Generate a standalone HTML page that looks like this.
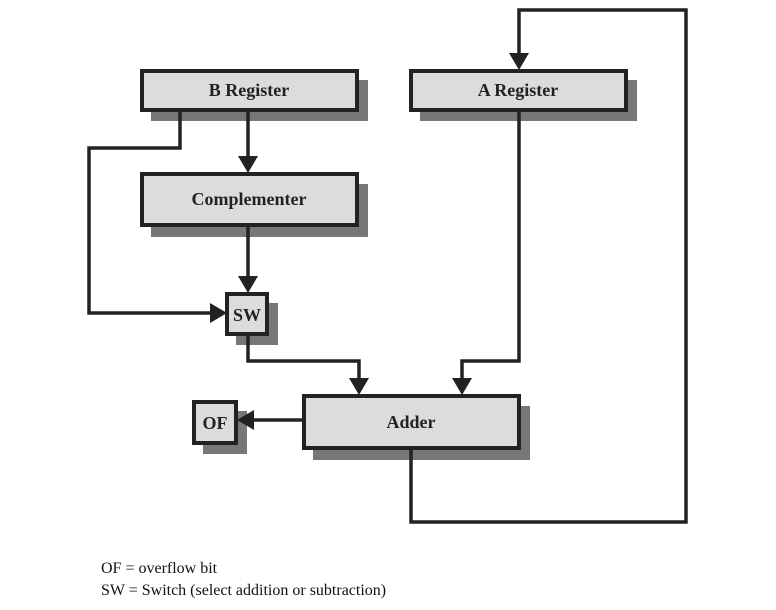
<!DOCTYPE html>
<html><head><style>body{margin:0;background:#fff}svg{display:block}</style></head><body>
<svg width="776" height="610" viewBox="0 0 776 610" xmlns="http://www.w3.org/2000/svg" font-family="Liberation Serif, serif">
<defs><marker id="a" markerWidth="10" markerHeight="10" refX="0" refY="5" orient="auto" markerUnits="userSpaceOnUse"><path d="M0,0 L0,0 L12,5 L0,10 z" fill="#222"/></marker></defs>
<g fill="#777">
<rect x="151" y="80" width="217" height="41"/>
<rect x="420" y="80" width="217" height="41"/>
<rect x="151" y="184" width="217" height="53"/>
<rect x="236" y="303" width="42" height="42"/>
<rect x="313" y="406" width="217" height="54"/>
<rect x="203" y="411" width="44" height="43"/>
</g>
<g fill="#dcdcde" stroke="#222" stroke-width="4">
<rect x="142" y="71" width="215" height="39"/>
<rect x="411" y="71" width="215" height="39"/>
<rect x="142" y="174" width="215" height="51"/>
<rect x="227" y="294" width="40" height="40"/>
<rect x="304" y="396" width="215" height="52"/>
<rect x="194" y="402" width="42" height="41"/>
</g>
<g fill="none" stroke="#222" stroke-width="3.5">
<path d="M180 110 V148 H89 V313 H214"/>
<path d="M248 110 V160"/>
<path d="M248 225 V280"/>
<path d="M248 334 V361 H359 V382"/>
<path d="M519 110 V361 H462 V382"/>
<path d="M304 420 H250"/>
<path d="M411 448 V522 H686 V10 H519 V57"/>
</g>
<g fill="#222">
<path d="M238 156 L258 156 L248 173 z"/>
<path d="M238 276 L258 276 L248 293 z"/>
<path d="M349 378 L369 378 L359 395 z"/>
<path d="M452 378 L472 378 L462 395 z"/>
<path d="M509 53 L529 53 L519 70 z"/>
<path d="M210 303 L210 323 L227 313 z"/>
<path d="M254 410 L254 430 L237 420 z"/>
</g>
<g font-weight="bold" font-size="18" fill="#222" text-anchor="middle">
<text x="249" y="96">B Register</text>
<text x="518" y="96">A Register</text>
<text x="249" y="205">Complementer</text>
<text x="247" y="321">SW</text>
<text x="411" y="428">Adder</text>
<text x="215" y="429">OF</text>
</g>
<g font-size="16" fill="#111">
<text x="101" y="573">OF = overflow bit</text>
<text x="101" y="595">SW = Switch (select addition or subtraction)</text>
</g>
</svg>
</body></html>
